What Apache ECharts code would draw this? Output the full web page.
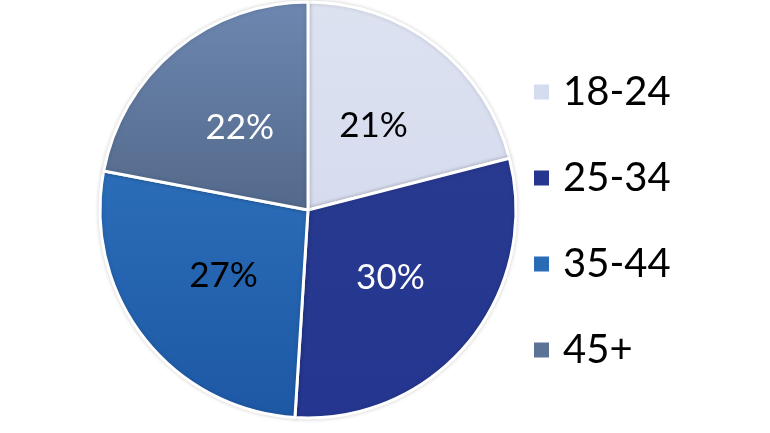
<!DOCTYPE html>
<html><head><meta charset="utf-8">
<script src="https://cdn.jsdelivr.net/npm/echarts@6/dist/echarts.min.js"></script>
<style>html,body{margin:0;padding:0;background:#fff}#c{width:770px;height:433px}</style>
</head><body><div id="c"></div>
<script>
const categories = ['18-24', '25-34', '35-44', '45+'];
const values = [21, 30, 27, 22];
const labelColors = ['#000000', '#ffffff', '#000000', '#ffffff'];

function grad(a, b) {
  return new echarts.graphic.LinearGradient(0, 0, 0, 1, [{offset: 0, color: a}, {offset: 1, color: b}]);
}
const sliceColors = [
  grad('#dde2f1', '#d6dcee'),
  grad('#28398f', '#243690'),
  grad('#2b6db8', '#1d58a5'),
  grad('#6d87b0', '#53698b')
];
const legendColors = ['#d6dcef', '#26368f', '#2a6bb5', '#5c7296'];

const chart = echarts.init(document.getElementById('c'), null, {renderer: 'canvas'});
chart.setOption({
  animation: false,
  backgroundColor: '#ffffff',
  legend: {
    orient: 'vertical',
    left: 527,
    top: 67,
    itemWidth: 17,
    itemHeight: 17,
    itemGap: 46,
    icon: 'rect',
    textStyle: {fontFamily: 'Lato', fontSize: 40, lineHeight: 40, color: '#000', padding: [0, 0, 0, 8]},
    data: categories.map((c, i) => ({name: c, itemStyle: {color: legendColors[i]}}))
  },
  series: [{
    type: 'pie',
    center: [308, 210],
    radius: [0, 208],
    startAngle: 90,
    clockwise: true,
    silent: true,
    itemStyle: {borderColor: '#ffffff', borderWidth: 3, shadowBlur: 4, shadowColor: 'rgba(0,0,0,0.15)'},
    label: {
      show: true,
      position: 'inside',
      fontFamily: 'Lato',
      fontSize: 35,
      formatter: '{c}%'
    },
    labelLine: {show: false},
    data: categories.map((c, i) => ({
      name: c,
      value: values[i],
      itemStyle: {color: sliceColors[i]},
      label: {color: labelColors[i]}
    }))
  }]
});
</script></body></html>
